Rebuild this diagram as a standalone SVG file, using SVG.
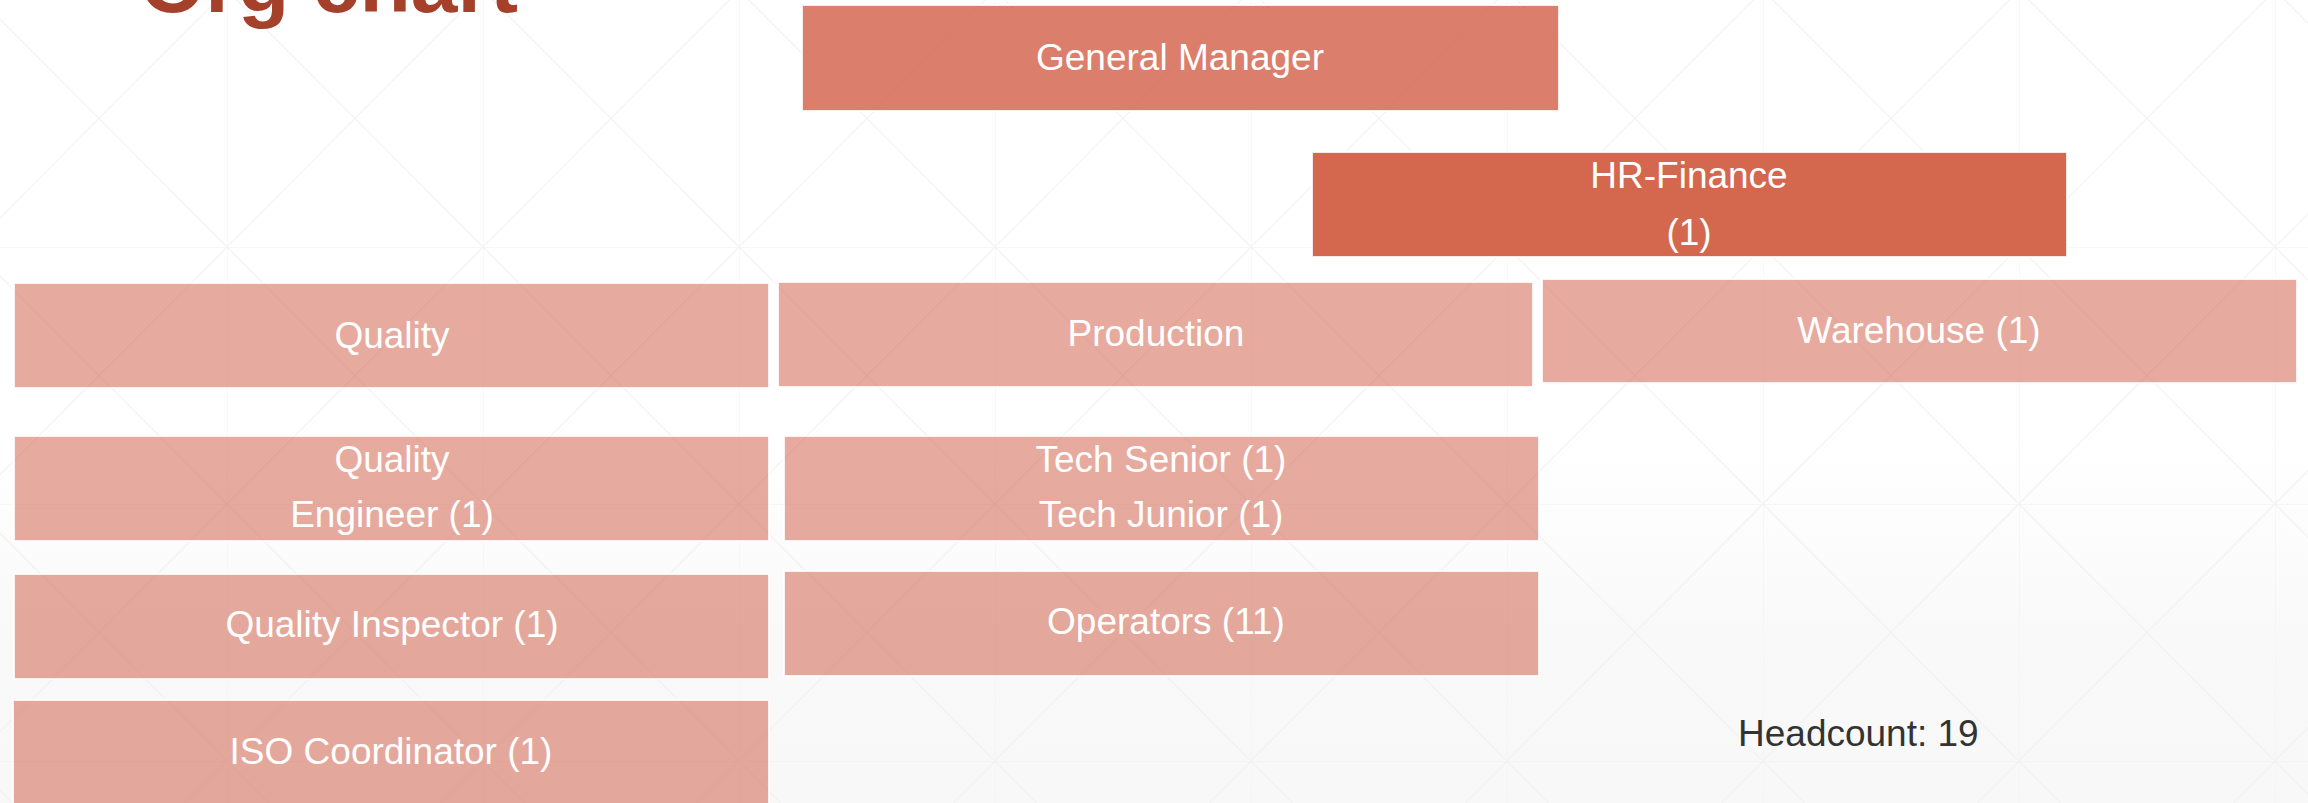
<svg xmlns="http://www.w3.org/2000/svg" width="2308" height="803" viewBox="0 0 2308 803">
  <style>
    .lbl { font-family: "Liberation Sans", Arial, sans-serif; font-size: 37px; fill: #FFFFFF; text-anchor: middle; }
    .box { stroke: #FFFFFF; stroke-opacity: 0.85; stroke-width: 2; }
    .light { fill: #CF553D; fill-opacity: 0.5; }
    .gm { fill: #D0573F; fill-opacity: 0.77; }
    .hr { fill: #D4684E; }
    .title { font-family: "Liberation Sans", Arial, sans-serif; font-weight: bold; font-size: 84px; fill: #A5402A; }
    .note { font-family: "Liberation Sans", Arial, sans-serif; font-size: 37px; fill: #333333; }
  </style>
  <defs>
    <linearGradient id="bg" x1="0" y1="0" x2="0" y2="803" gradientUnits="userSpaceOnUse">
      <stop offset="0.55" stop-color="#FFFFFF"/>
      <stop offset="0.78" stop-color="#F9F9F9"/>
      <stop offset="1" stop-color="#F8F8F8"/>
    </linearGradient>
    <pattern id="grid" x="-29" y="-10" width="256" height="257" patternUnits="userSpaceOnUse">
      <g fill="none" stroke="#EFEFEF" stroke-width="1.3">
        <line x1="0" y1="0" x2="0" y2="257"/>
        <line x1="0" y1="0" x2="256" y2="0"/>
        <line x1="0" y1="0" x2="256" y2="257"/>
        <line x1="256" y1="0" x2="0" y2="257"/>
      </g>
    </pattern>
  </defs>

  <rect x="0" y="0" width="2308" height="803" fill="url(#bg)"/>
  <rect x="0" y="0" width="2308" height="803" fill="url(#grid)" opacity="0.7"/>

  <text class="title" x="140" y="12">Org chart</text>

  <g id="connectors"></g>

  <g id="node-general-manager">
    <rect class="box gm" x="802" y="5" width="757" height="106"/>
    <text class="lbl" x="1180" y="70">General Manager</text>
  </g>

  <g id="node-hr-finance">
    <rect class="box hr" x="1312" y="152" width="755" height="105"/>
    <text class="lbl" x="1689" y="188">HR-Finance</text>
    <text class="lbl" x="1689" y="245">(1)</text>
  </g>

  <g id="node-quality">
    <rect class="box light" x="14" y="283" width="755" height="105"/>
    <text class="lbl" x="392" y="348">Quality</text>
  </g>

  <g id="node-production">
    <rect class="box light" x="778" y="282" width="755" height="105"/>
    <text class="lbl" x="1156" y="346">Production</text>
  </g>

  <g id="node-warehouse">
    <rect class="box light" x="1542" y="279" width="755" height="104"/>
    <text class="lbl" x="1919" y="343">Warehouse (1)</text>
  </g>

  <g id="node-quality-engineer">
    <rect class="box light" x="14" y="436" width="755" height="105"/>
    <text class="lbl" x="392" y="472">Quality</text>
    <text class="lbl" x="392" y="527">Engineer (1)</text>
  </g>

  <g id="node-tech">
    <rect class="box light" x="784" y="436" width="755" height="105"/>
    <text class="lbl" x="1161" y="472">Tech Senior (1)</text>
    <text class="lbl" x="1161" y="527">Tech Junior (1)</text>
  </g>

  <g id="node-quality-inspector">
    <rect class="box light" x="14" y="574" width="755" height="105"/>
    <text class="lbl" x="392" y="637">Quality Inspector (1)</text>
  </g>

  <g id="node-operators">
    <rect class="box light" x="784" y="571" width="755" height="105"/>
    <text class="lbl" x="1166" y="634">Operators (11)</text>
  </g>

  <g id="node-iso-coordinator">
    <rect class="box light" x="13" y="700" width="756" height="120"/>
    <text class="lbl" x="391" y="764">ISO Coordinator (1)</text>
  </g>

  <g id="headcount">
    <text class="note" x="1738" y="746">Headcount: 19</text>
  </g>
</svg>
